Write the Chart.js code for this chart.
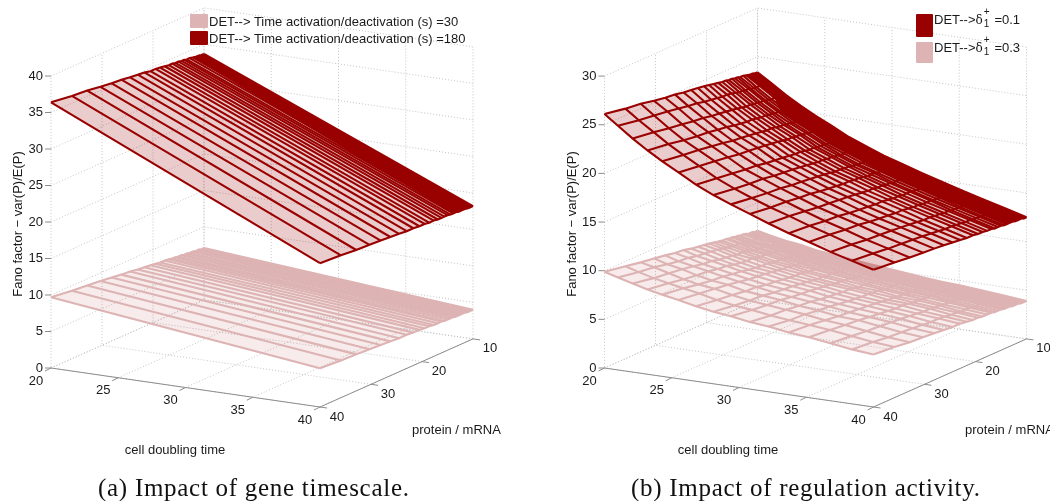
<!DOCTYPE html>
<html>
<head>
<meta charset="utf-8">
<title>Fano factor surfaces</title>
<script src="https://cdn.jsdelivr.net/npm/chart.js@4"></script>
<style>
  html, body { margin: 0; padding: 0; background: #fff; }
  #page { position: relative; width: 1050px; height: 501px; overflow: hidden; font-family: 'Liberation Sans', sans-serif; color: #1a1a1a; }
  canvas { position: absolute; top: 0; }
  .patch { position: absolute; border-radius: 1px; }
  .leg { position: absolute; font-size: 13px; line-height: 15px; white-space: nowrap; }
  .cap { position: absolute; top: 474px; font-family: 'Liberation Serif', serif; font-size: 25px; letter-spacing: 0.72px; line-height: 28px; white-space: nowrap; color: #111; }
  .delta { font-family: 'DejaVu Serif', serif; font-size: 12px; }
  .stack { position: relative; display: inline-block; width: 8px; height: 10px; font-size: 10px; }
  .stack i { position: absolute; left: 1px; font-style: normal; line-height: 10px; }
</style>
</head>
<body>
<div id="page">
  <canvas id="panelA" width="525" height="501" style="left:0"></canvas>
  <canvas id="panelB" width="525" height="501" style="left:525px"></canvas>

  <div class="patch" style="left:190px;top:14px;width:18px;height:14px;background:#ddb3b3"></div>
  <div class="patch" style="left:190px;top:31px;width:18px;height:14px;background:#990000"></div>
  <div class="leg" style="left:209px;top:14px">DET--&gt; Time activation/deactivation (s) =30</div>
  <div class="leg" style="left:209px;top:31px">DET--&gt; Time activation/deactivation (s) =180</div>

  <div class="patch" style="left:916px;top:14px;width:17px;height:23px;background:#990000"></div>
  <div class="patch" style="left:916px;top:42px;width:17px;height:21px;background:#ddb3b3"></div>
  <div class="leg" style="left:934px;top:12px">DET--&gt;<span class="delta">δ</span><span class="stack"><i style="top:-7px">+</i><i style="top:5px">1</i></span> =0.1</div>
  <div class="leg" style="left:934px;top:40px">DET--&gt;<span class="delta">δ</span><span class="stack"><i style="top:-7px">+</i><i style="top:5px">1</i></span> =0.3</div>

  <div class="cap" style="left:98px">(a) Impact of gene timescale.</div>
  <div class="cap" style="left:631px">(b) Impact of regulation activity.</div>
</div>

<script>
'use strict';

// ===== Axis ticks =====
const doublingTicks = [20, 25, 30, 35, 40];
const proteinTicks = [40, 30, 20, 10];
const fanoTicksA = [0, 5, 10, 15, 20, 25, 30, 35, 40];
const fanoTicksB = [0, 5, 10, 15, 20, 25, 30];

// ===== Surface grid =====
const proteinLevels = [40, 35.9, 32.9, 30.3, 28.1, 26.2, 24.5, 23, 21.7, 20.5, 19.5, 18.6, 17.7, 16.9, 16.2, 15.6, 15, 14.4, 13.9, 13.4, 12.8, 12.2, 11.6, 11, 10.5, 10];
const doublingLevels = [20, 21, 22.1, 23.2, 24.3, 25.5, 26.8, 28.1, 29.4, 30.8, 32.2, 33.7, 35.2, 36.8, 38.4, 40];
// rows merge into a solid band from these indices on: later at x=20, earlier at x=40
const denseAt20 = 21;
const denseAt40 = 18;

// Panel (a): lines run straight, so one value at each end per protein level
const slowAt20 = [36.4, 36.0, 35.8, 35.5, 35.3, 35.2, 35.0, 34.9, 34.8, 34.6, 34.6, 34.5, 34.4, 34.3, 34.3, 34.2, 34.2, 34.1, 34.1, 34.0, 34.0, 33.9, 33.8, 33.8, 33.7, 33.7];
const slowAt40 = [19.7, 19.5, 19.3, 19.2, 19.1, 19.0, 18.9, 18.8, 18.8, 18.7, 18.7, 18.6, 18.6, 18.5, 18.5, 18.5, 18.5, 18.4, 18.4, 18.4, 18.3, 18.3, 18.3, 18.2, 18.2, 18.2];
const fastAt20 = [9.7, 9.3, 9.1, 8.9, 8.7, 8.5, 8.4, 8.2, 8.1, 8.0, 7.9, 7.8, 7.8, 7.7, 7.6, 7.6, 7.5, 7.5, 7.4, 7.4, 7.3, 7.3, 7.2, 7.2, 7.1, 7.1];
const fastAt40 = [5.3, 5.1, 5.0, 4.9, 4.8, 4.7, 4.6, 4.6, 4.5, 4.5, 4.4, 4.4, 4.3, 4.3, 4.3, 4.2, 4.2, 4.2, 4.2, 4.1, 4.1, 4.1, 4.1, 4.0, 4.0, 4.0];

// Panel (b): one row per protein level, one column per doubling level
const delta01 = [
  [26.1, 25.1, 24.0, 23.0, 22.1, 21.2, 20.2, 19.4, 18.7, 18.0, 17.3, 16.6, 16.0, 15.3, 14.7, 14.1],
  [25.7, 24.7, 23.7, 22.7, 21.8, 20.9, 19.9, 19.1, 18.4, 17.7, 17.1, 16.4, 15.8, 15.1, 14.5, 13.9],
  [25.5, 24.5, 23.4, 22.4, 21.6, 20.7, 19.7, 18.9, 18.2, 17.6, 16.9, 16.2, 15.6, 14.9, 14.3, 13.7],
  [25.2, 24.3, 23.2, 22.2, 21.4, 20.5, 19.5, 18.8, 18.1, 17.4, 16.7, 16.1, 15.5, 14.8, 14.2, 13.6],
  [25.0, 24.1, 23.0, 22.1, 21.2, 20.3, 19.4, 18.6, 17.9, 17.3, 16.6, 15.9, 15.3, 14.7, 14.1, 13.5],
  [24.9, 23.9, 22.9, 21.9, 21.0, 20.2, 19.2, 18.5, 17.8, 17.1, 16.5, 15.8, 15.2, 14.6, 14.0, 13.4],
  [24.7, 23.8, 22.7, 21.8, 20.9, 20.1, 19.1, 18.4, 17.7, 17.0, 16.4, 15.7, 15.1, 14.5, 13.9, 13.3],
  [24.6, 23.6, 22.6, 21.6, 20.8, 20.0, 19.0, 18.3, 17.6, 16.9, 16.3, 15.6, 15.0, 14.4, 13.8, 13.2],
  [24.5, 23.5, 22.5, 21.5, 20.7, 19.9, 18.9, 18.2, 17.5, 16.8, 16.2, 15.6, 15.0, 14.3, 13.7, 13.1],
  [24.4, 23.4, 22.4, 21.4, 20.6, 19.8, 18.8, 18.1, 17.4, 16.8, 16.1, 15.5, 14.9, 14.3, 13.7, 13.1],
  [24.3, 23.3, 22.3, 21.4, 20.5, 19.7, 18.8, 18.0, 17.3, 16.7, 16.1, 15.4, 14.8, 14.2, 13.6, 13.0],
  [24.2, 23.3, 22.2, 21.3, 20.5, 19.6, 18.7, 18.0, 17.3, 16.7, 16.0, 15.4, 14.8, 14.2, 13.6, 13.0],
  [24.1, 23.2, 22.1, 21.2, 20.4, 19.6, 18.6, 17.9, 17.2, 16.6, 16.0, 15.3, 14.7, 14.1, 13.5, 12.9],
  [24.0, 23.1, 22.1, 21.2, 20.3, 19.5, 18.6, 17.9, 17.2, 16.5, 15.9, 15.3, 14.7, 14.1, 13.5, 12.9],
  [24.0, 23.0, 22.0, 21.1, 20.3, 19.5, 18.5, 17.8, 17.1, 16.5, 15.9, 15.3, 14.7, 14.0, 13.4, 12.8],
  [23.9, 23.0, 22.0, 21.1, 20.2, 19.4, 18.5, 17.8, 17.1, 16.5, 15.8, 15.2, 14.6, 14.0, 13.4, 12.8],
  [23.9, 22.9, 21.9, 21.0, 20.2, 19.4, 18.5, 17.7, 17.0, 16.4, 15.8, 15.2, 14.6, 14.0, 13.4, 12.8],
  [23.8, 22.9, 21.9, 21.0, 20.1, 19.3, 18.4, 17.7, 17.0, 16.4, 15.8, 15.2, 14.6, 13.9, 13.3, 12.7],
  [23.8, 22.8, 21.8, 20.9, 20.1, 19.3, 18.4, 17.7, 17.0, 16.3, 15.7, 15.1, 14.5, 13.9, 13.3, 12.7],
  [23.7, 22.8, 21.8, 20.9, 20.1, 19.3, 18.3, 17.6, 16.9, 16.3, 15.7, 15.1, 14.5, 13.9, 13.3, 12.7],
  [23.7, 22.7, 21.7, 20.8, 20.0, 19.2, 18.3, 17.6, 16.9, 16.3, 15.7, 15.1, 14.5, 13.9, 13.3, 12.7],
  [23.6, 22.7, 21.7, 20.8, 20.0, 19.2, 18.3, 17.6, 16.9, 16.2, 15.6, 15.0, 14.4, 13.8, 13.2, 12.6],
  [23.5, 22.6, 21.6, 20.7, 19.9, 19.1, 18.2, 17.5, 16.8, 16.2, 15.6, 15.0, 14.4, 13.8, 13.2, 12.6],
  [23.5, 22.6, 21.6, 20.7, 19.9, 19.1, 18.2, 17.5, 16.8, 16.2, 15.6, 15.0, 14.4, 13.8, 13.2, 12.6],
  [23.4, 22.5, 21.5, 20.6, 19.8, 19.0, 18.1, 17.4, 16.7, 16.1, 15.5, 14.9, 14.3, 13.7, 13.1, 12.5],
  [23.4, 22.5, 21.5, 20.6, 19.8, 19.0, 18.1, 17.4, 16.7, 16.1, 15.5, 14.9, 14.3, 13.7, 13.1, 12.5]
];
const delta03 = [
  [9.9, 9.5, 9.1, 8.7, 8.4, 8.1, 7.7, 7.4, 7.2, 6.9, 6.7, 6.4, 6.2, 5.9, 5.6, 5.4],
  [9.5, 9.1, 8.7, 8.4, 8.1, 7.8, 7.4, 7.1, 6.9, 6.6, 6.4, 6.2, 6.0, 5.7, 5.4, 5.2],
  [9.2, 8.9, 8.5, 8.1, 7.8, 7.6, 7.2, 6.9, 6.7, 6.5, 6.3, 6.0, 5.8, 5.5, 5.2, 5.0],
  [9.0, 8.6, 8.3, 7.9, 7.6, 7.4, 7.0, 6.8, 6.6, 6.3, 6.1, 5.8, 5.7, 5.4, 5.1, 4.9],
  [8.8, 8.4, 8.1, 7.8, 7.5, 7.2, 6.9, 6.6, 6.4, 6.2, 6.0, 5.7, 5.5, 5.3, 5.0, 4.8],
  [8.6, 8.3, 7.9, 7.6, 7.3, 7.0, 6.7, 6.5, 6.3, 6.0, 5.8, 5.6, 5.4, 5.2, 4.9, 4.7],
  [8.5, 8.1, 7.8, 7.5, 7.2, 6.9, 6.6, 6.4, 6.2, 5.9, 5.7, 5.5, 5.3, 5.1, 4.8, 4.6],
  [8.3, 8.0, 7.6, 7.3, 7.0, 6.8, 6.5, 6.3, 6.1, 5.8, 5.6, 5.4, 5.2, 5.0, 4.8, 4.6],
  [8.2, 7.9, 7.5, 7.2, 6.9, 6.7, 6.4, 6.2, 6.0, 5.7, 5.5, 5.3, 5.2, 4.9, 4.7, 4.5],
  [8.1, 7.8, 7.4, 7.1, 6.8, 6.6, 6.3, 6.1, 5.9, 5.7, 5.5, 5.2, 5.1, 4.9, 4.6, 4.4],
  [8.0, 7.7, 7.3, 7.1, 6.8, 6.5, 6.3, 6.0, 5.8, 5.6, 5.4, 5.2, 5.0, 4.8, 4.6, 4.4],
  [7.9, 7.6, 7.3, 7.0, 6.7, 6.5, 6.2, 6.0, 5.8, 5.5, 5.4, 5.1, 5.0, 4.8, 4.5, 4.3],
  [7.8, 7.5, 7.2, 6.9, 6.6, 6.4, 6.1, 5.9, 5.7, 5.5, 5.3, 5.1, 4.9, 4.7, 4.5, 4.3],
  [7.7, 7.4, 7.1, 6.9, 6.6, 6.3, 6.1, 5.9, 5.7, 5.4, 5.2, 5.0, 4.9, 4.7, 4.5, 4.3],
  [7.7, 7.4, 7.0, 6.8, 6.5, 6.3, 6.0, 5.8, 5.6, 5.4, 5.2, 5.0, 4.9, 4.6, 4.4, 4.2],
  [7.6, 7.3, 7.0, 6.8, 6.5, 6.2, 6.0, 5.8, 5.6, 5.4, 5.2, 4.9, 4.8, 4.6, 4.4, 4.2],
  [7.6, 7.3, 6.9, 6.7, 6.4, 6.2, 6.0, 5.7, 5.5, 5.3, 5.1, 4.9, 4.8, 4.6, 4.4, 4.2],
  [7.5, 7.2, 6.9, 6.7, 6.4, 6.1, 5.9, 5.7, 5.5, 5.3, 5.1, 4.9, 4.8, 4.5, 4.3, 4.1],
  [7.5, 7.2, 6.8, 6.6, 6.3, 6.1, 5.9, 5.7, 5.5, 5.2, 5.0, 4.8, 4.7, 4.5, 4.3, 4.1],
  [7.4, 7.1, 6.8, 6.6, 6.3, 6.1, 5.8, 5.6, 5.4, 5.2, 5.0, 4.8, 4.7, 4.5, 4.3, 4.1],
  [7.4, 7.1, 6.7, 6.5, 6.2, 6.0, 5.8, 5.6, 5.4, 5.2, 5.0, 4.8, 4.7, 4.4, 4.2, 4.0],
  [7.3, 7.0, 6.7, 6.5, 6.2, 6.0, 5.8, 5.5, 5.3, 5.1, 4.9, 4.7, 4.6, 4.4, 4.2, 4.0],
  [7.2, 6.9, 6.6, 6.4, 6.1, 5.9, 5.7, 5.5, 5.3, 5.1, 4.9, 4.7, 4.6, 4.4, 4.2, 4.0],
  [7.2, 6.9, 6.6, 6.4, 6.1, 5.9, 5.7, 5.5, 5.3, 5.1, 4.9, 4.7, 4.6, 4.4, 4.1, 3.9],
  [7.1, 6.8, 6.5, 6.3, 6.0, 5.8, 5.6, 5.4, 5.2, 5.0, 4.8, 4.6, 4.5, 4.3, 4.1, 3.9],
  [7.1, 6.8, 6.5, 6.3, 6.0, 5.8, 5.6, 5.4, 5.2, 5.0, 4.8, 4.6, 4.5, 4.3, 4.1, 3.9]
];

const darkRed = '#990000';
const paleRed = '#ddb3b3';
const gridGrey = '#c4c4c4';
const axisGrey = '#8c8c8c';
const tickFont = "13px 'Liberation Sans', sans-serif";
const labelFont = "13px 'Liberation Sans', sans-serif";

// Fixed MATLAB-style oblique view: data (doubling, protein, fano) -> flat plot plane
function makeView(originX, perFano) {
  return (d, p, f) => ({
    x: originX + (d - 20) * 13.45 + (40 - p) * 5.1,
    y: 368 + (d - 20) * 1.95 - (40 - p) * 2.27 - f * perFano
  });
}

function polyline(points, color, width, dash) {
  return {
    data: points, showLine: true, pointRadius: 0, borderColor: color,
    borderWidth: width, borderDash: dash || [], tension: 0, fill: false, clip: false
  };
}

function surface(corners, fillColor) {
  return {
    data: corners, showLine: true, pointRadius: 0, borderWidth: 0,
    borderColor: 'transparent', backgroundColor: fillColor, fill: 'shape', tension: 0, clip: false
  };
}

// Walls, floor and axis lines behind the surfaces
function boxLines(view, fanoTicks) {
  const top = fanoTicks[fanoTicks.length - 1];
  const out = [];
  const dotted = pts => out.push(polyline(pts, gridGrey, 1, [1, 2]));
  fanoTicks.forEach(f => dotted([view(20, 40, f), view(20, 10, f), view(40, 10, f)]));
  doublingTicks.forEach(d => {
    dotted([view(d, 40, 0), view(d, 10, 0), view(d, 10, top)]);
  });
  proteinTicks.forEach(p => {
    dotted([view(40, p, 0), view(20, p, 0), view(20, p, top)]);
  });
  out.push(polyline([view(20, 40, 0), view(40, 40, 0), view(40, 10, 0)], axisGrey, 1));
  const mark = (pt, dx, dy) => out.push(polyline([pt, { x: pt.x + dx, y: pt.y + dy }], axisGrey, 1));
  fanoTicks.forEach(f => mark(view(20, 40, f), -6, 0));
  doublingTicks.forEach(d => mark(view(d, 40, 0), -6, 3));
  proteinTicks.forEach(p => mark(view(40, p, 0), 7, 1));
  return out;
}

// Text the hidden axes would have drawn, placed through the chart's scales
function axisText(view, fanoTicks, labels) {
  return {
    id: 'axisText',
    afterDraw(chart) {
      const { ctx, scales } = chart;
      const put = (text, x, y, font, align, rot) => {
        ctx.save();
        ctx.translate(scales.x.getPixelForValue(x), scales.y.getPixelForValue(y));
        if (rot) ctx.rotate(rot);
        ctx.font = font;
        ctx.fillStyle = '#1a1a1a';
        ctx.textAlign = align;
        ctx.textBaseline = 'middle';
        ctx.fillText(text, 0, 0);
        ctx.restore();
      };
      fanoTicks.forEach(f => {
        const pt = view(20, 40, f);
        put(String(f), pt.x - 8, pt.y, tickFont, 'right');
      });
      doublingTicks.forEach(d => {
        const pt = view(d, 40, 0);
        put(String(d), pt.x - 15, pt.y + 13, tickFont, 'center');
      });
      proteinTicks.forEach(p => {
        const pt = view(40, p, 0);
        put(String(p), pt.x + 17, pt.y + 10, tickFont, 'center');
      });
      put('cell doubling time', labels.doubling, 450, labelFont, 'center');
      put('protein / mRNA', labels.protein, 430, labelFont, 'left');
      put('Fano factor \u2212 var(P)/E(P)', labels.fano, 224, labelFont, 'center', -Math.PI / 2);
    }
  };
}

function makeChart(id, view, fanoTicks, labels, layers) {
  const datasets = boxLines(view, fanoTicks).concat(layers).reverse();
  return new Chart(document.getElementById(id), {
    type: 'scatter',
    data: { datasets },
    options: {
      responsive: false, animation: false, events: [],
      layout: { padding: 0 },
      plugins: { legend: { display: false }, tooltip: { enabled: false } },
      scales: {
        x: { type: 'linear', display: false, min: 0, max: 525 },
        y: { type: 'linear', display: false, min: 0, max: 501, reverse: true }
      }
    },
    plugins: [axisText(view, fanoTicks, labels)]
  });
}

// ===== Panel (a): lines along doubling time only =====
function stripes(view, at20, at40, color, fillColor, width) {
  const last = proteinLevels.length - 1;
  const out = [
    surface([
      view(20, proteinLevels[0], at20[0]), view(40, proteinLevels[0], at40[0]),
      view(40, proteinLevels[last], at40[last]), view(20, proteinLevels[last], at20[last])
    ], fillColor),
    surface([
      view(20, proteinLevels[denseAt20], at20[denseAt20]), view(40, proteinLevels[denseAt40], at40[denseAt40]),
      view(40, proteinLevels[last], at40[last]), view(20, proteinLevels[last], at20[last])
    ], color)
  ];
  proteinLevels.forEach((p, i) => {
    out.push(polyline([view(20, p, at20[i]), view(40, p, at40[i])], color, width));
  });
  out.push(polyline(proteinLevels.map((p, i) => view(20, p, at20[i])), color, width));
  out.push(polyline(proteinLevels.map((p, i) => view(40, p, at40[i])), color, width));
  return out;
}

// ===== Panel (b): full mesh =====
function mesh(view, table, color, fillColor, width) {
  const last = proteinLevels.length - 1;
  const n = doublingLevels.length - 1;
  const rim = [];
  doublingLevels.forEach((d, j) => rim.push(view(d, proteinLevels[0], table[0][j])));
  for (let j = n; j >= 0; j--) rim.push(view(doublingLevels[j], proteinLevels[last], table[last][j]));
  // solid band follows the curved rows: narrow at the first columns, then wider
  const band = [];
  doublingLevels.forEach((d, j) => {
    const row = j < 3 ? denseAt20 : denseAt40;
    band.push(view(d, proteinLevels[row], table[row][j]));
  });
  for (let j = n; j >= 0; j--) band.push(view(doublingLevels[j], proteinLevels[last], table[last][j]));
  const out = [surface(rim, fillColor), surface(band, color)];
  proteinLevels.forEach((p, i) => {
    out.push(polyline(doublingLevels.map((d, j) => view(d, p, table[i][j])), color, width));
  });
  doublingLevels.forEach((d, j) => {
    out.push(polyline(proteinLevels.map((p, i) => view(d, p, table[i][j])), color, width));
  });
  return out;
}

const viewA = makeView(51, 7.3);
const viewB = makeView(79.5, 9.73);

makeChart('panelA', viewA, fanoTicksA, { doubling: 175, protein: 412, fano: 18 }, [
  ...stripes(viewA, fastAt20, fastAt40, paleRed, 'rgba(153,0,0,0.08)', 2.1),
  ...stripes(viewA, slowAt20, slowAt40, darkRed, 'rgba(153,0,0,0.2)', 2.1)
]);
makeChart('panelB', viewB, fanoTicksB, { doubling: 203, protein: 440, fano: 47 }, [
  ...mesh(viewB, delta03, paleRed, 'rgba(153,0,0,0.08)', 2.1),
  ...mesh(viewB, delta01, darkRed, 'rgba(153,0,0,0.2)', 2.1)
]);
</script>
</body>
</html>
